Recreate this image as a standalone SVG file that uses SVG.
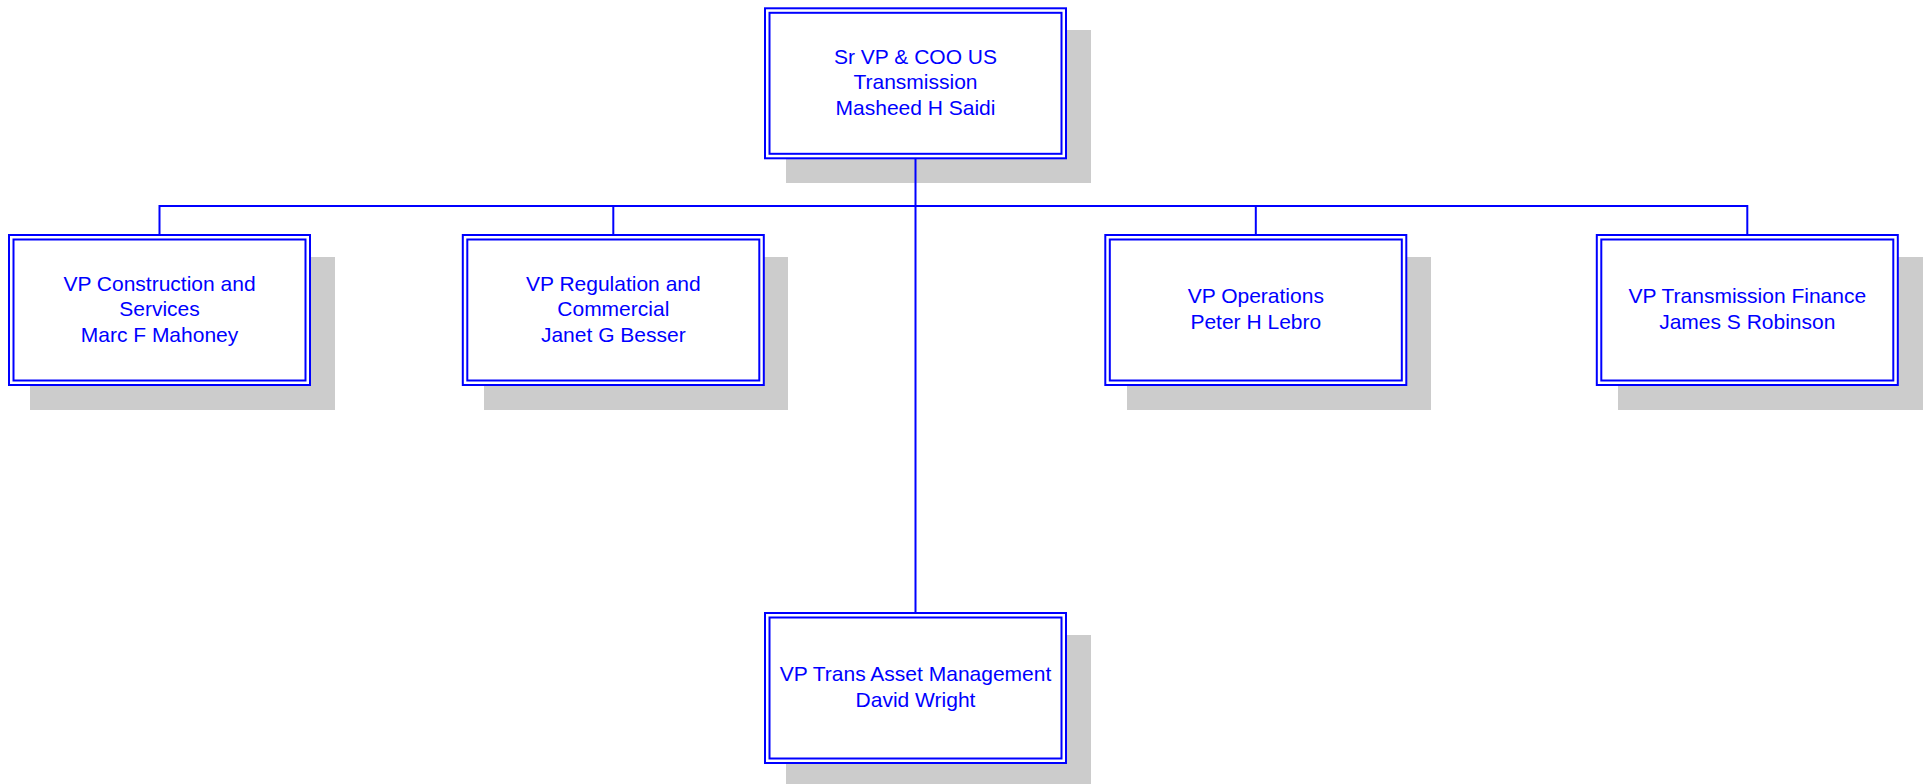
<svg xmlns="http://www.w3.org/2000/svg" width="1923" height="784" viewBox="0 0 1923 784">
<style>
.shadow{fill:#cccccc;stroke:none}
.outer{fill:#ffffff;stroke:#0000ff;stroke-width:2}
.inner{fill:none;stroke:#0000ff;stroke-width:2}
.conn{fill:none;stroke:#0000ff;stroke-width:2}
text{font-family:"Liberation Sans",Arial,sans-serif;font-size:21px;fill:#0000ff;text-anchor:middle}
</style>
<rect width="1923" height="784" fill="#ffffff"/>
<g id="shadows">
<rect class="shadow" x="786" y="30" width="305" height="153"/>
<rect class="shadow" x="30" y="257" width="305" height="153"/>
<rect class="shadow" x="484" y="257" width="304" height="153"/>
<rect class="shadow" x="1127" y="257" width="304" height="153"/>
<rect class="shadow" x="1618" y="257" width="305" height="153"/>
<rect class="shadow" x="786" y="635" width="305" height="153"/>
</g>
<g id="connectors">
<path class="conn" d="M915.5,159 V612"/>
<path class="conn" d="M159.5,234 V206 H1747.3 V234"/>
<path class="conn" d="M613.3,206 V234"/>
<path class="conn" d="M1255.8,206 V234"/>
</g>
<g id="n_top">
<rect class="outer" x="765" y="8.3" width="301" height="150"/>
<rect class="inner" x="769.5" y="12.8" width="292" height="141"/>
<text x="915.5" y="63.5">Sr VP &amp; COO US</text>
<text x="915.5" y="89">Transmission</text>
<text x="915.5" y="114.5">Masheed H Saidi</text>
</g>
<g id="n_construction">
<rect class="outer" x="9" y="235" width="301" height="150"/>
<rect class="inner" x="13.5" y="239.5" width="292" height="141"/>
<text x="159.5" y="290.5">VP Construction and</text>
<text x="159.5" y="316">Services</text>
<text x="159.5" y="341.5">Marc F Mahoney</text>
</g>
<g id="n_regulation">
<rect class="outer" x="462.8" y="235" width="301" height="150"/>
<rect class="inner" x="467.3" y="239.5" width="292" height="141"/>
<text x="613.3" y="290.5">VP Regulation and</text>
<text x="613.3" y="316">Commercial</text>
<text x="613.3" y="341.5">Janet G Besser</text>
</g>
<g id="n_operations">
<rect class="outer" x="1105.3" y="235" width="301" height="150"/>
<rect class="inner" x="1109.8" y="239.5" width="292" height="141"/>
<text x="1255.8" y="303.3">VP Operations</text>
<text x="1255.8" y="328.8">Peter H Lebro</text>
</g>
<g id="n_finance">
<rect class="outer" x="1596.8" y="235" width="301" height="150"/>
<rect class="inner" x="1601.3" y="239.5" width="292" height="141"/>
<text x="1747.3" y="303.3">VP Transmission Finance</text>
<text x="1747.3" y="328.8">James S Robinson</text>
</g>
<g id="n_asset">
<rect class="outer" x="765" y="613" width="301" height="150"/>
<rect class="inner" x="769.5" y="617.5" width="292" height="141"/>
<text x="915.5" y="681.3">VP Trans Asset Management</text>
<text x="915.5" y="706.8">David Wright</text>
</g>
</svg>
